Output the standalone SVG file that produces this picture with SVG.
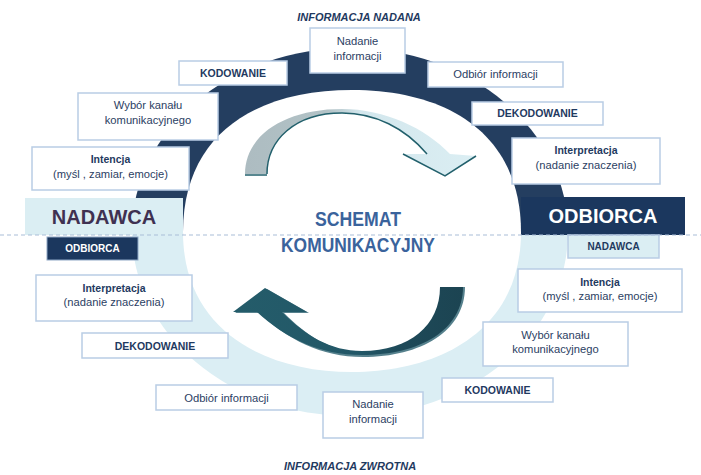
<svg xmlns="http://www.w3.org/2000/svg" width="701" height="475" viewBox="0 0 701 475">
  <defs>
    <style>
      .box { fill: #ffffff; stroke: #b9cde5; stroke-width: 1.5; }
      .t { font-family: "Liberation Sans", Arial, sans-serif; text-anchor: middle; }
      .reg { font-size: 11.2px; fill: #2b4163; }
      .bold { font-size: 10.5px; font-weight: bold; fill: #1f3a5f; }
      .head { font-size: 11px; font-weight: bold; font-style: italic; fill: #1f3a5f; }
      .big { font-size: 20px; font-weight: bold; }
      .title { font-size: 19.5px; font-weight: bold; fill: #3a639c; }
      .small { font-size: 10px; font-weight: bold; }
    </style>
    <linearGradient id="gTop" gradientUnits="userSpaceOnUse" x1="245" y1="0" x2="476" y2="0">
      <stop offset="0" stop-color="#adbcc1"/>
      <stop offset="0.36" stop-color="#b2c2c6"/>
      <stop offset="0.5" stop-color="#d3e7ed"/>
      <stop offset="1" stop-color="#dbeef3"/>
    </linearGradient>
    <linearGradient id="gBottom" gradientUnits="userSpaceOnUse" x1="233" y1="0" x2="463" y2="0">
      <stop offset="0" stop-color="#245c6a"/>
      <stop offset="0.55" stop-color="#225767"/>
      <stop offset="0.72" stop-color="#1e4a59"/>
      <stop offset="1" stop-color="#1c4452"/>
    </linearGradient>
    <clipPath id="upper"><rect x="0" y="0" width="701" height="235"/></clipPath>
    <clipPath id="lower"><rect x="0" y="235" width="701" height="240"/></clipPath>
  </defs>

  <rect x="0" y="0" width="701" height="475" fill="#ffffff"/>

  <!-- ring: dark upper half, pale lower half -->
  <g id="ring">
    <ellipse cx="350" cy="232" rx="218" ry="184" fill="#243e60" clip-path="url(#upper)"/>
    <ellipse cx="350" cy="232" rx="218" ry="184" fill="#dbeef4" clip-path="url(#lower)"/>
    <path d="M183,232 C183,135 255,90 352,90 C449,90 521,135 521,232 C521,330 440,372 352,372 C264,372 183,330 183,232 Z" fill="#ffffff"/>
  </g>

  <!-- curved flow arrows -->
  <g id="connectors">
    <g id="arrow-forward">
      <path d="M245,174 C245,135 285,109 342,109 C385,109 425,128 450,154 L476,156 L445,176 L403,154 L427,154 C405,128 375,113 342,113 C295,113 267,140 267,174 Z" fill="url(#gTop)"/>
      <path d="M267,174 C267,140 295,113 342,113 C375,113 405,128 427,154 M403,154 L445,176 L476,156 M245,175 L267,175" fill="none" stroke="#22606c" stroke-width="1.5"/>
    </g>
    <g id="arrow-return">
      <path d="M465,287 C465,331 421,357 363,357 C321,357 287,339 259,313 L235,313 L267,289 L309,313 L284,313 C307,336 331,352 363,352 C411,352 442,326 442,287 Z" fill="#2c6271" opacity="0.8"/>
      <path d="M463,287 C463,330 420,355 362,355 C320,355 285,338 257,312 L233,312 L265,288 L307,312 L282,312 C305,335 330,351 362,351 C410,351 440,325 440,287 Z" fill="url(#gBottom)"/>
    </g>
  </g>

  <!-- centre title -->
  <g id="title">
    <text class="t title" x="358" y="226" textLength="86" lengthAdjust="spacingAndGlyphs">SCHEMAT</text>
    <text class="t title" x="358" y="252" textLength="154" lengthAdjust="spacingAndGlyphs">KOMUNIKACYJNY</text>
  </g>

  <!-- flow headings -->
  <text class="t head" x="359" y="21">INFORMACJA NADANA</text>
  <text class="t head" x="350" y="470">INFORMACJA ZWROTNA</text>

  <!-- upper sequence -->
  <g id="nadanie-top">
    <rect class="box" x="310" y="28" width="95" height="45"/>
    <text class="t reg" x="357.5" y="45">Nadanie</text>
    <text class="t reg" x="357.5" y="60">informacji</text>
  </g>
  <g id="kodowanie-top">
    <rect class="box" x="179" y="61" width="108" height="24"/>
    <text class="t bold" x="233" y="77">KODOWANIE</text>
  </g>
  <g id="odbior-top">
    <rect class="box" x="428" y="62" width="135" height="25"/>
    <text class="t reg" x="495.5" y="78">Odbiór informacji</text>
  </g>
  <g id="wybor-top">
    <rect class="box" x="78" y="93" width="140" height="47"/>
    <text class="t reg" x="148" y="109">Wybór kanału</text>
    <text class="t reg" x="148" y="124">komunikacyjnego</text>
  </g>
  <g id="dekodowanie-top">
    <rect class="box" x="472" y="102" width="131" height="23"/>
    <text class="t bold" x="537.5" y="117">DEKODOWANIE</text>
  </g>
  <g id="intencja-top">
    <rect class="box" x="32" y="147" width="157" height="43"/>
    <text class="t bold" x="110.5" y="163">Intencja</text>
    <text class="t reg" x="110.5" y="178">(myśl , zamiar, emocje)</text>
  </g>
  <g id="interpretacja-top">
    <rect class="box" x="512" y="138" width="148" height="46"/>
    <text class="t bold" x="586" y="154">Interpretacja</text>
    <text class="t reg" x="586" y="169">(nadanie znaczenia)</text>
  </g>

  <!-- roles -->
  <g id="nadawca-main">
    <rect x="25" y="198" width="158" height="37" fill="#dbeef3"/>
    <text class="t big" x="104" y="224" fill="#3f3151">NADAWCA</text>
  </g>
  <g id="odbiorca-main">
    <rect x="521" y="197" width="164" height="38" fill="#1b375e"/>
    <text class="t big" x="603" y="223" fill="#ffffff">ODBIORCA</text>
  </g>
  <g id="odbiorca-small">
    <rect x="47" y="237" width="91" height="23" fill="#1b375e" stroke="#8fa8c6" stroke-width="1"/>
    <text class="t small" x="92.5" y="252" fill="#ffffff">ODBIORCA</text>
  </g>
  <g id="nadawca-small">
    <rect x="568" y="235" width="91" height="23" fill="#dbeef3" stroke="#b9cde5" stroke-width="1.5"/>
    <text class="t small" x="613.5" y="250" fill="#1f3a5f">NADAWCA</text>
  </g>

  <!-- lower sequence -->
  <g id="interpretacja-bottom">
    <rect class="box" x="36" y="275" width="156" height="46"/>
    <text class="t bold" x="114" y="292">Interpretacja</text>
    <text class="t reg" x="114" y="306">(nadanie znaczenia)</text>
  </g>
  <g id="dekodowanie-bottom">
    <rect class="box" x="82" y="333" width="146" height="25"/>
    <text class="t bold" x="155" y="350">DEKODOWANIE</text>
  </g>
  <g id="odbior-bottom">
    <rect class="box" x="156" y="385" width="141" height="25"/>
    <text class="t reg" x="226.5" y="402">Odbiór informacji</text>
  </g>
  <g id="nadanie-bottom">
    <rect class="box" x="323" y="392" width="100" height="46"/>
    <text class="t reg" x="373" y="408">Nadanie</text>
    <text class="t reg" x="373" y="423">informacji</text>
  </g>
  <g id="kodowanie-bottom">
    <rect class="box" x="442" y="378" width="111" height="24"/>
    <text class="t bold" x="497.5" y="394">KODOWANIE</text>
  </g>
  <g id="wybor-bottom">
    <rect class="box" x="483" y="322" width="145" height="44"/>
    <text class="t reg" x="555.5" y="339">Wybór kanału</text>
    <text class="t reg" x="555.5" y="353">komunikacyjnego</text>
  </g>
  <g id="intencja-bottom">
    <rect class="box" x="518" y="269" width="164" height="43"/>
    <text class="t bold" x="600" y="286">Intencja</text>
    <text class="t reg" x="600" y="300">(myśl , zamiar, emocje)</text>
  </g>

  <!-- divider between the two halves -->
  <line x1="0" y1="235" x2="701" y2="235" stroke="#a9bdd8" stroke-width="1.2" stroke-dasharray="4 3"/>
</svg>
